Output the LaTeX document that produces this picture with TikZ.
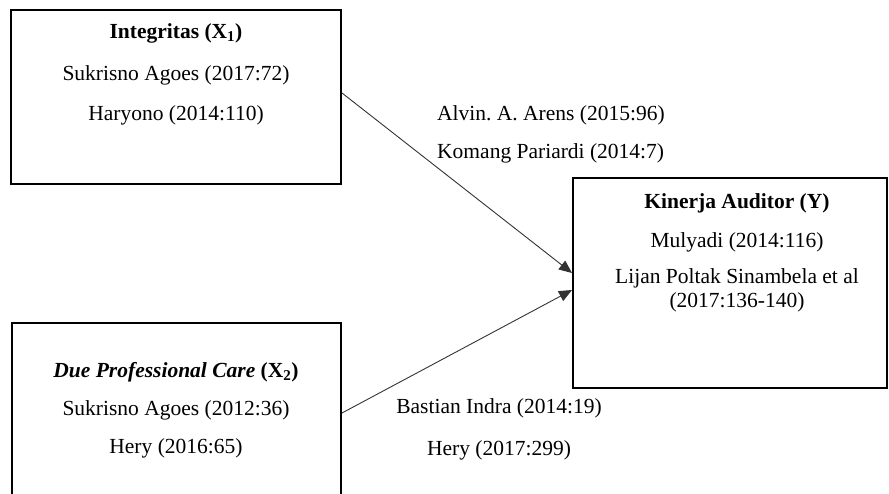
\documentclass[tikz,border=0pt]{standalone}
\usepackage{fontspec}
\setmainfont{Liberation Serif}
\usetikzlibrary{arrows.meta}
\frenchspacing

\begin{document}
\begin{tikzpicture}[
        x=1pt, y=-1pt,
        box/.style={
        rectangle, draw=black,
        line width=2pt, inner sep=0pt},
        txt/.style={
        font=\fontsize{21.5}{24}\selectfont,
        inner sep=0pt, align=center},
        arrow/.style={
        draw=black!80, line width=0.9pt,
        -{Triangle[length=13pt, width=11pt]}},
        ]

        \useasboundingbox (0,0) rectangle (889,493);
        \clip (0,0) rectangle (889,493);

        \node (x1) [box, minimum width=330pt, minimum height=174pt] at (176,97){};
        \node (x2) [box, minimum width=329pt, minimum height=197pt] at (176.5,421.5){};
        \node (y) [box, minimum width=314pt, minimum height=210pt] at (730,283){};

        \node (x1a) [txt] at (176,33){\textbf{Integritas (X\textsubscript{1})}};
        \node (x1b) [txt] at (176,75){Sukrisno Agoes (2017:72)};
        \node (x1c) [txt] at (176,115){Haryono (2014:110)};

        \node (x2a) [txt] at (176,372){\textbf{\textit{Due Professional Care} (X\textsubscript{2})}};
        \node (x2b) [txt] at (176,410){Sukrisno Agoes (2012:36)};
        \node (x2c) [txt] at (176,448){Hery (2016:65)};

        \node (ya) [txt] at (737,203){\textbf{Kinerja Auditor (Y)}};
        \node (yb) [txt] at (737,242){Mulyadi (2014:116)};
        \node (yc) [txt] at (737,290){Lijan Poltak Sinambela et al\\(2017:136-140)};

        \node (l1) [txt, anchor=west] at (437,115){Alvin. A. Arens (2015:96)};
        \node (l2) [txt, anchor=west] at (437,153){Komang Pariardi (2014:7)};
        \node (l3) [txt] at (499,408){Bastian Indra (2014:19)};
        \node (l4) [txt] at (499,450){Hery (2017:299)};

        \draw[arrow] ([yshift=4pt]x1.east) -- ([yshift=10pt]y.west);
        \draw[arrow] ([yshift=8.5pt]x2.east) -- ([yshift=-7pt]y.west);
    \end{tikzpicture}
\end{document}
